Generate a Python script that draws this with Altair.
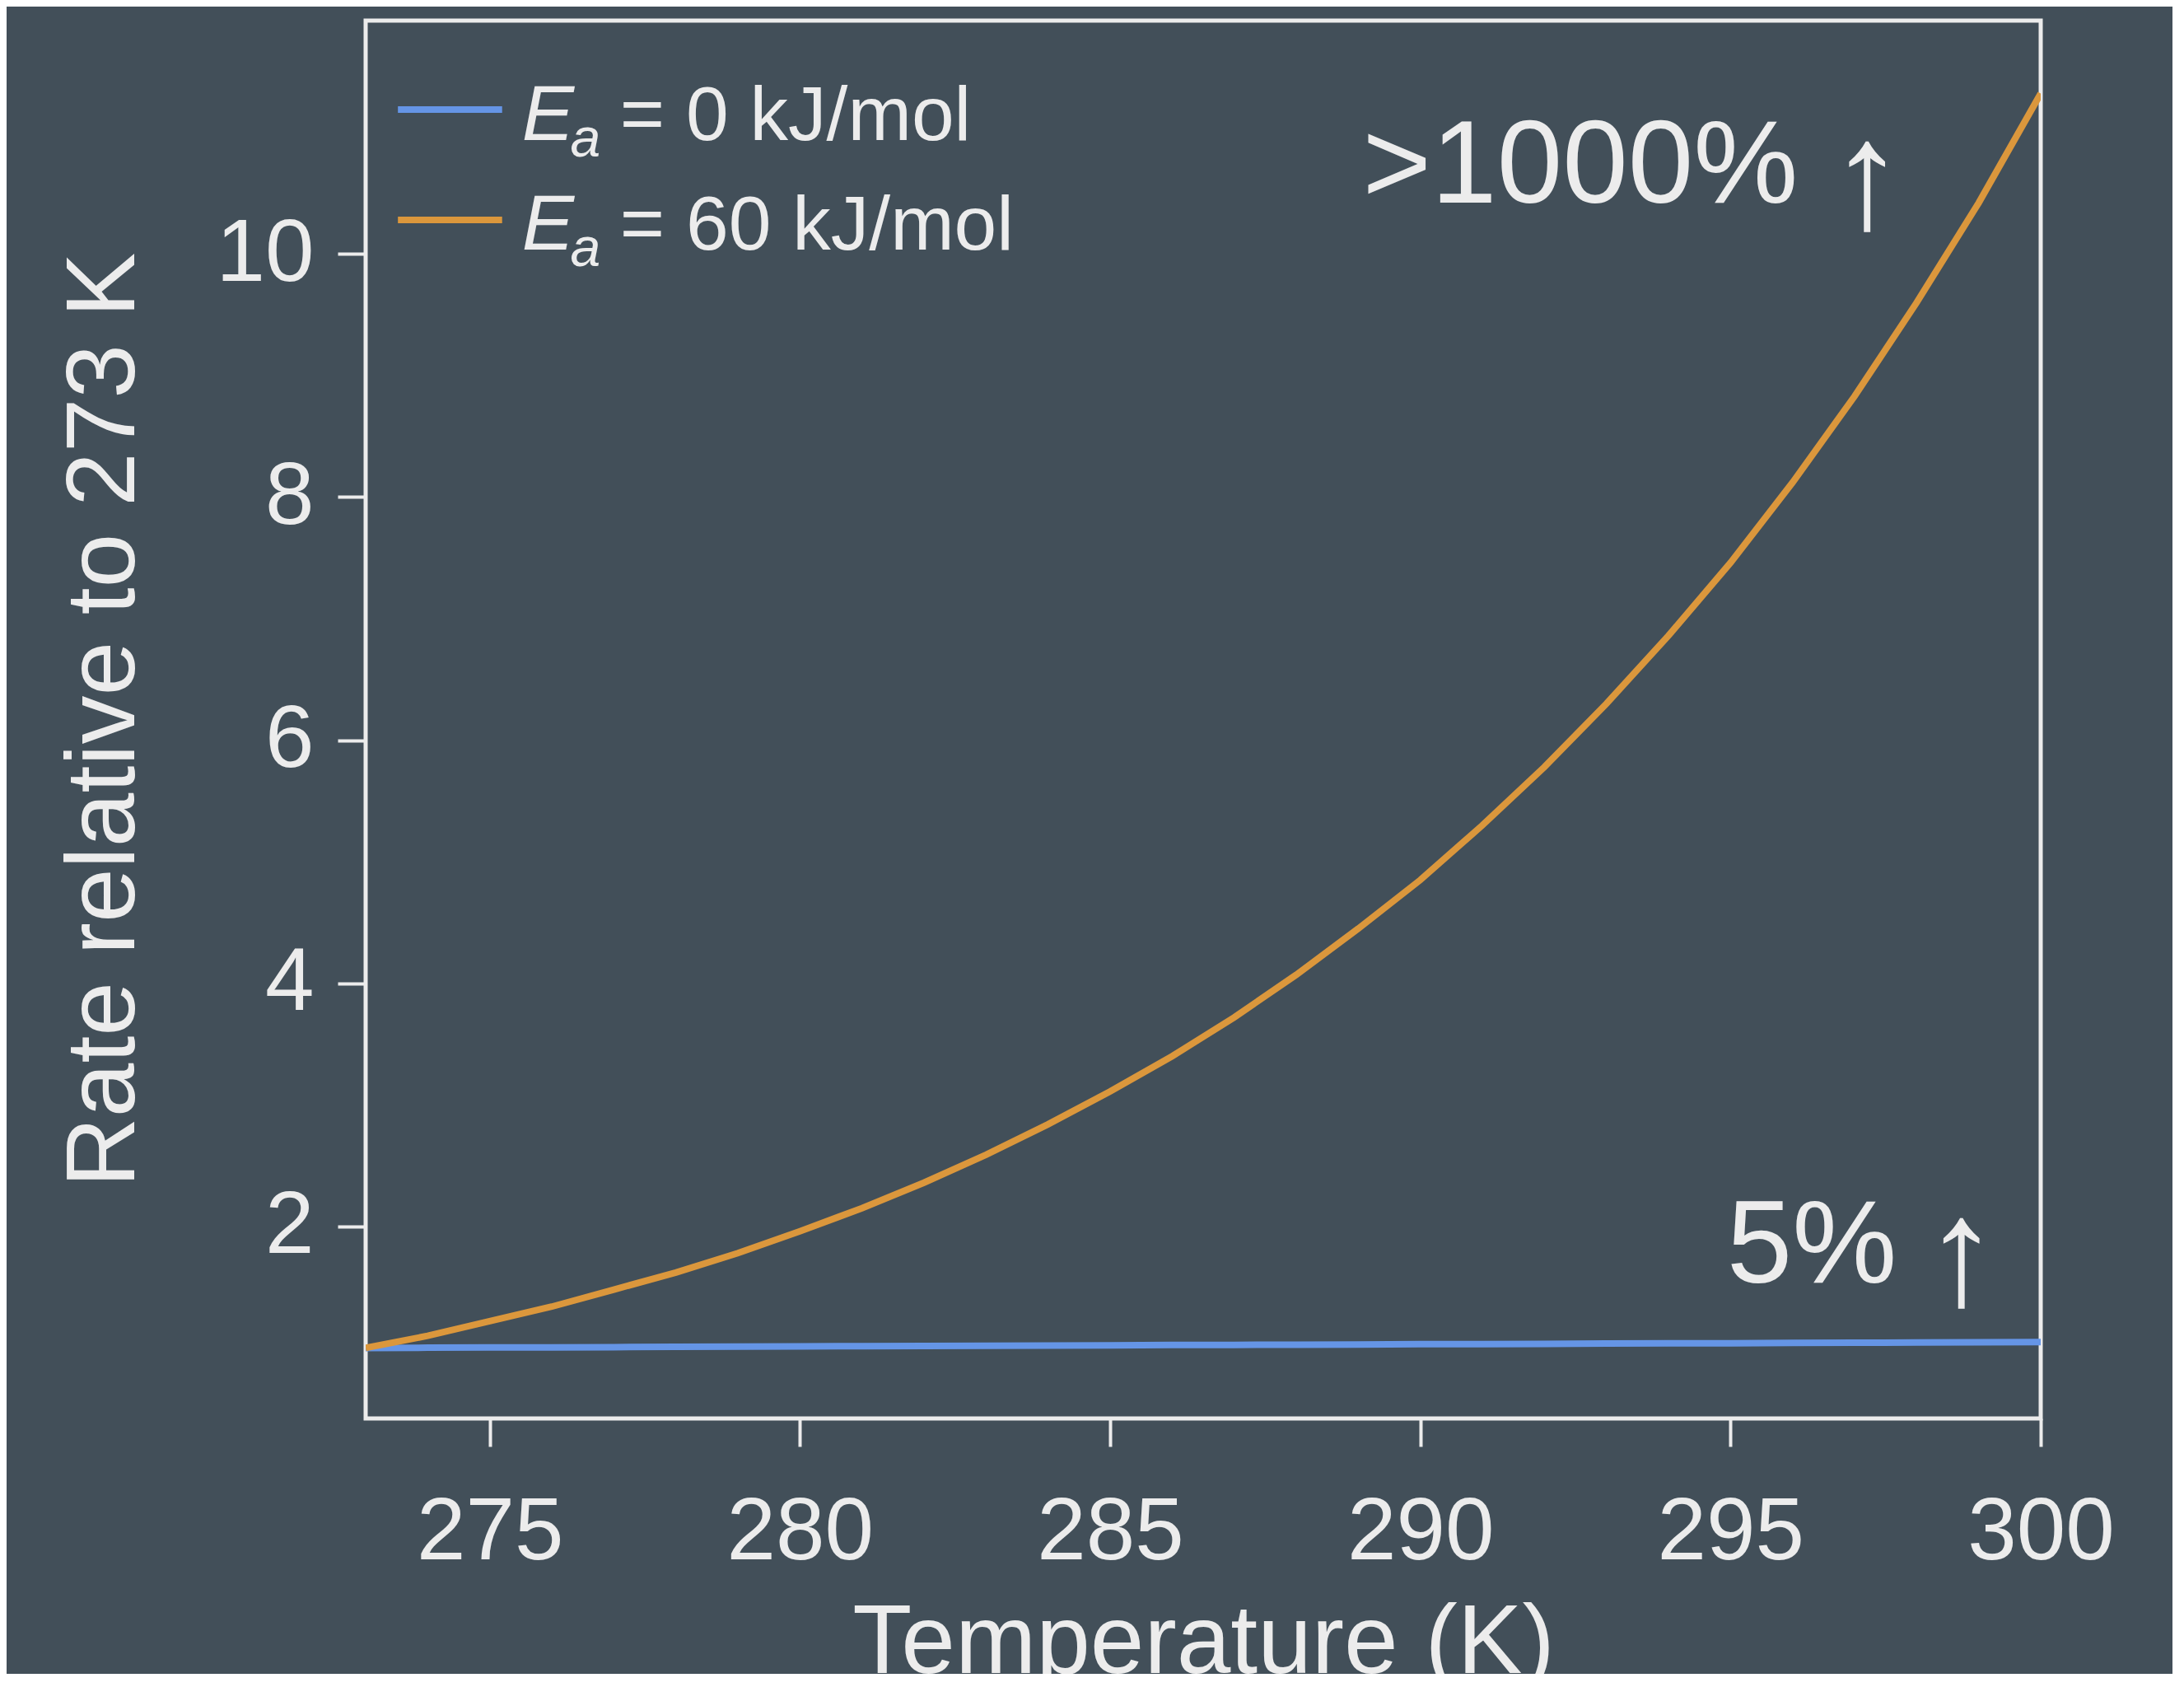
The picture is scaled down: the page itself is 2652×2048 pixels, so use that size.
import altair as alt
import pandas as pd

# ---------------- data ----------------
temperature = [273, 274, 275, 276, 277, 278, 279, 280, 281, 282, 283, 284, 285, 286,
               287, 288, 289, 290, 291, 292, 293, 294, 295, 296, 297, 298, 299, 300]
rate_ea0 = [1.000, 1.002, 1.004, 1.005, 1.007, 1.009, 1.011, 1.013, 1.015, 1.016,
            1.018, 1.020, 1.022, 1.024, 1.025, 1.027, 1.029, 1.031, 1.032, 1.034,
            1.036, 1.038, 1.039, 1.041, 1.043, 1.045, 1.047, 1.048]
rate_ea60 = [1.00, 1.10, 1.22, 1.34, 1.48, 1.62, 1.78, 1.96, 2.15, 2.36, 2.59, 2.84,
             3.11, 3.40, 3.72, 4.07, 4.45, 4.85, 5.30, 5.78, 6.30, 6.86, 7.46, 8.12,
             8.83, 9.60, 10.42, 11.32]
series_names = ["Ea0", "Ea60"]
series_colors = ["#6595e6", "#db973c"]
legend_rest = ["= 0 kJ/mol", "= 60 kJ/mol"]
annotation_texts = [">1000%", "5%"]
arrow_texts = ["\u2191", "\u2191"]
x_ticks = [275, 280, 285, 290, 295, 300]
y_ticks = [2, 4, 6, 8, 10]

# ---------------- style ----------------
BG = "#424f59"
FG = "#ececec"
FONT = "Liberation Sans"

n = len(temperature)
df = pd.DataFrame({
    "T": temperature + temperature,
    "rate": rate_ea0 + rate_ea60,
    "series": [series_names[0]] * n + [series_names[1]] * n,
})

xscale = alt.Scale(domain=[273, 300], nice=False, zero=False)
yscale = alt.Scale(domain=[0.42, 11.92], nice=False, zero=False)
cscale = alt.Scale(domain=series_names, range=series_colors)

xaxis = alt.Axis(values=x_ticks, format="d", title="Temperature (K)", labelFlush=False)
yaxis = alt.Axis(values=y_ticks, format="d", title="Rate relative to 273 K", labelFlush=False)


def X(field="T"):
    return alt.X(f"{field}:Q", scale=xscale, axis=xaxis, title="Temperature (K)")


def Y(field="rate"):
    return alt.Y(f"{field}:Q", scale=yscale, axis=yaxis, title="Rate relative to 273 K")


lines = alt.Chart(df).mark_line(strokeWidth=8, clip=True).encode(
    x=X(), y=Y(),
    color=alt.Color("series:N", scale=cscale, legend=None),
)

# legend (manual, to allow italic E with subscript a)
leg_df = pd.DataFrame({
    "T": [273.52, 273.52],
    "T2": [275.20, 275.20],
    "rate": [11.188, 10.28],
    "series": series_names,
})
leg_lines = alt.Chart(leg_df).mark_rule(strokeWidth=8, strokeCap="butt").encode(
    x=X(), x2="T2:Q", y=Y(),
    color=alt.Color("series:N", scale=cscale, legend=None),
)

leg_E = alt.Chart(pd.DataFrame({"T": [275.52, 275.52], "rate": [10.937, 10.036],
                                "txt": ["E", "E"]})).mark_text(
    font=FONT, fontSize=95, fontStyle="italic", color=FG, align="left", baseline="alphabetic"
).encode(x=X(), y=Y(), text="txt:N")

leg_a = alt.Chart(pd.DataFrame({"T": [276.30, 276.30], "rate": [10.80, 9.90],
                                "txt": ["a", "a"]})).mark_text(
    font=FONT, fontSize=66, fontStyle="italic", color=FG, align="left", baseline="alphabetic"
).encode(x=X(), y=Y(), text="txt:N")

leg_rest = alt.Chart(pd.DataFrame({"T": [277.10, 277.10], "rate": [10.937, 10.036],
                                   "txt": legend_rest})).mark_text(
    font=FONT, fontSize=93, color=FG, align="left", baseline="alphabetic"
).encode(x=X(), y=Y(), text="txt:N")

ann = alt.Chart(pd.DataFrame({"T": [289.07, 294.94], "rate": [10.42, 1.54],
                              "txt": annotation_texts})).mark_text(
    font=FONT, fontSize=143, color=FG, align="left", baseline="alphabetic"
).encode(x=X(), y=Y(), text="txt:N")

arrows = alt.Chart(pd.DataFrame({"T": [297.20, 298.72], "rate": [10.219, 1.362],
                                 "txt": arrow_texts})).mark_text(
    font=FONT, fontSize=186, color=FG, align="center", baseline="alphabetic"
).encode(x=X(), y=Y(), text="txt:N")

chart = alt.layer(lines, leg_lines, leg_E, leg_a, leg_rest, ann, arrows).properties(
    width=2034,
    height=1697,
    background=BG,
    autosize=alt.AutoSizeParams(type="none"),
    padding={"left": 436, "top": 17, "right": 160, "bottom": 310},
).configure_view(
    stroke=FG, strokeWidth=5
).configure_axis(
    labelFont=FONT, titleFont=FONT, labelColor=FG, titleColor=FG, tickColor=FG,
    domain=False, grid=False, labelFontSize=107, titleFontSize=118,
    titleFontWeight="normal", tickSize=34, tickWidth=4,
).configure_axisX(
    labelPadding=51, titlePadding=24
).configure_axisY(
    labelPadding=29, titlePadding=74
)

chart.save("out.html", embed_options={"renderer": "svg", "actions": False})
